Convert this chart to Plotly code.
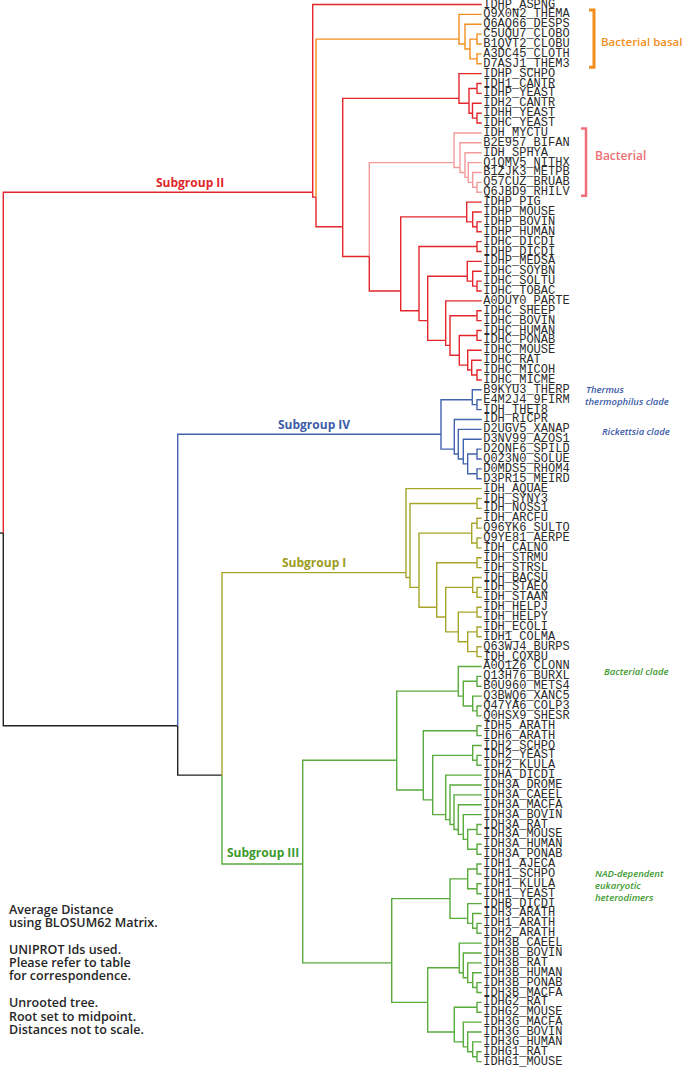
import plotly.graph_objects as go

# ---------------- data ----------------
LEAVES = [
    "IDHP_ASPNG", "Q9X0N2_THEMA", "Q6AQ66_DESPS", "C5UQU7_CLOBO", "B1QVT2_CLOBU",
    "A3DC45_CLOTH", "D7ASJ1_THEM3", "IDHP_SCHPO", "IDH1_CANTR", "IDHP_YEAST",
    "IDH2_CANTR", "IDHH_YEAST", "IDHC_YEAST", "IDH_MYCTU", "B2E957_BIFAN",
    "IDH_SPHYA", "Q1QMV5_NITHX", "B1ZJK3_METPB", "Q57CUZ_BRUAB", "Q6JBD9_RHILV",
    "IDHP_PIG", "IDHP_MOUSE", "IDHP_BOVIN", "IDHP_HUMAN", "IDHC_DICDI",
    "IDHP_DICDI", "IDHP_MEDSA", "IDHC_SOYBN", "IDHC_SOLTU", "IDHC_TOBAC",
    "A0DUY0_PARTE", "IDHC_SHEEP", "IDHC_BOVIN", "IDHC_HUMAN", "IDHC_PONAB",
    "IDHC_MOUSE", "IDHC_RAT", "IDHC_MICOH", "IDHC_MICME",
    "B9KYU3_THERP", "E4M2J4_9FIRM", "IDH_THET8", "IDH_RICPR", "D2UGV5_XANAP",
    "D3NV99_AZOS1", "D2QNF6_SPILD", "Q023N0_SOLUE", "D0MDS5_RHOM4", "D3PR15_MEIRD",
    "IDH_AQUAE", "IDH_SYNY3", "IDH_NOSS1", "IDH_ARCFU", "Q96YK6_SULTO",
    "Q9YE81_AERPE", "IDH_CALNO", "IDH_STRMU", "IDH_STRSL", "IDH_BACSU",
    "IDH_STAEQ", "IDH_STAAN", "IDH_HELPJ", "IDH_HELPY", "IDH_ECOLI",
    "IDH1_COLMA", "Q63WJ4_BURPS", "IDH_COXBU",
    "A0Q1Z6_CLONN", "Q13H76_BURXL", "B0U960_METS4", "Q3BWQ6_XANC5", "Q47YA6_COLP3",
    "Q0HSX9_SHESR", "IDH5_ARATH", "IDH6_ARATH", "IDH2_SCHPO", "IDH2_YEAST",
    "IDH2_KLULA", "IDHA_DICDI", "IDH3A_DROME", "IDH3A_CAEEL", "IDH3A_MACFA",
    "IDH3A_BOVIN", "IDH3A_RAT", "IDH3A_MOUSE", "IDH3A_HUMAN", "IDH3A_PONAB",
    "IDH1_AJECA", "IDH1_SCHPO", "IDH1_KLULA", "IDH1_YEAST", "IDHB_DICDI",
    "IDH3_ARATH", "IDH1_ARATH", "IDH2_ARATH", "IDH3B_CAEEL", "IDH3B_BOVIN",
    "IDH3B_RAT", "IDH3B_HUMAN", "IDH3B_PONAB", "IDH3B_MACFA", "IDHG2_RAT",
    "IDHG2_MOUSE", "IDH3G_MACFA", "IDH3G_BOVIN", "IDH3G_HUMAN", "IDHG1_RAT",
    "IDHG1_MOUSE",
]
LEAF_DEPTH = 481.7   # all tips share the same depth (distances not to scale)

# Newick sub-trees; ":value" = depth of the internal node
BASAL = "(Q9X0N2_THEMA,(Q6AQ66_DESPS,((C5UQU7_CLOBO,B1QVT2_CLOBU):477,(A3DC45_CLOTH,D7ASJ1_THEM3):477):470):465)Basal:459"
YEASTS = "(IDHP_SCHPO,((IDH1_CANTR,IDHP_YEAST):477,(IDH2_CANTR,(IDHH_YEAST,IDHC_YEAST):477):472.5):469):459"
BACT = "(IDH_MYCTU,(B2E957_BIFAN,(IDH_SPHYA,(Q1QMV5_NITHX,(B1ZJK3_METPB,(Q57CUZ_BRUAB,Q6JBD9_RHILV):477):472.7):468.3):465):460)Bact:454"
IDHP_MAMMALS = "(IDHP_PIG,(IDHP_MOUSE,(IDHP_BOVIN,IDHP_HUMAN):477):472.7):466.7"
PLANTS = "(IDHP_MEDSA,(IDHC_SOYBN,(IDHC_SOLTU,IDHC_TOBAC):477):472.7):467.3"
IDHC_MAMMALS = ("(A0DUY0_PARTE,((IDHC_SHEEP,IDHC_BOVIN):477,((IDHC_HUMAN,IDHC_PONAB):477,"
                "(IDHC_MOUSE,(IDHC_RAT,(IDHC_MICOH,IDHC_MICME):477):471.7):467.7):459.3):450):445.7")
SUB_II = ("(IDHP_ASPNG,(" + BASAL + ",(" + YEASTS + ",(" + BACT + ",(" + IDHP_MAMMALS +
          ",((IDHC_DICDI,IDHP_DICDI):477,(" + PLANTS + "," + IDHC_MAMMALS +
          "):427.7):419):400.7):369.3):342.7):316)SubII:312.7")

THERMUS = "(B9KYU3_THERP,(E4M2J4_9FIRM,IDH_THET8):477):472.3"
RICKETTSIA = ("(IDH_RICPR,(D2UGV5_XANAP,(D3NV99_AZOS1,((D2QNF6_SPILD,Q023N0_SOLUE):477,"
              "(D0MDS5_RHOM4,D3PR15_MEIRD):477):467.7):463.3):458.3):454.3")
SUB_IV = "(" + THERMUS + "," + RICKETTSIA + ")SubIV:441"

ARCHAEA = "((IDH_ARCFU,Q96YK6_SULTO):477,(Q9YE81_AERPE,IDH_CALNO):477):471.7"
PROTEO = "((IDH_HELPJ,IDH_HELPY):477,((IDH_ECOLI,IDH1_COLMA):477,(Q63WJ4_BURPS,IDH_COXBU):477):467.7):458.3"
SUB_I = ("(IDH_AQUAE,((IDH_SYNY3,IDH_NOSS1):477,(" + ARCHAEA +
         ",((IDH_STRMU,IDH_STRSL):477,((IDH_BACSU,(IDH_STAEQ,IDH_STAAN):477):472.7," + PROTEO +
         "):445.7):436.7):419):410)SubI:406")

BACT_III = "(A0Q1Z6_CLONN,((Q13H76_BURXL,B0U960_METS4):477,(Q3BWQ6_XANC5,(Q47YA6_COLP3,Q0HSX9_SHESR):477):472.7):463.3):458.3"
IDH3A = ("(IDHA_DICDI,(IDH3A_DROME,(IDH3A_CAEEL,(IDH3A_MACFA,(IDH3A_BOVIN,((IDH3A_RAT,IDH3A_MOUSE):477,"
         "(IDH3A_HUMAN,IDH3A_PONAB):477):467.7):463.3):458.3):454):450):445.7")
EUK_A = "((IDH5_ARATH,IDH6_ARATH):477,((IDH2_SCHPO,(IDH2_YEAST,IDH2_KLULA):477):472.7," + IDH3A + "):432.7):423.3"
HETERO = ("(((IDH1_AJECA,IDH1_SCHPO):477,(IDH1_KLULA,IDH1_YEAST):477):467.7,"
          "(IDHB_DICDI,(IDH3_ARATH,(IDH1_ARATH,IDH2_ARATH):477):472.7):467.7):450")
IDH3B = "(IDH3B_CAEEL,(IDH3B_BOVIN,(IDH3B_RAT,(IDH3B_HUMAN,(IDH3B_PONAB,IDH3B_MACFA):477):472.7):467.7):463.3):459.3"
IDH3G = "((IDHG2_RAT,IDHG2_MOUSE):477,(IDH3G_MACFA,(IDH3G_BOVIN,(IDH3G_HUMAN,(IDHG1_RAT,IDHG1_MOUSE):477):472.7):467.7):463.3):454.3"
SUB_III = "((" + BACT_III + "," + EUK_A + "):396.7,(" + HETERO + ",(" + IDH3B + "," + IDH3G + "):427.7):391.7)SubIII:302.7"

TREE = "(" + SUB_II + ",(" + SUB_IV + ",(" + SUB_I + "," + SUB_III + "):222):177.7):3.3"

CLADE_COLORS = {
    "SubII": "#E3262B", "Basal": "#F28E1C", "Bact": "#F29A9C",
    "SubIV": "#4263AE", "SubI": "#A6A52A", "SubIII": "#58AB3C",
}
DEFAULT_COLOR = "#222222"

NOTES = [
    "Average Distance", "using BLOSUM62 Matrix.", "",
    "UNIPROT Ids used.", "Please refer to table", "for correspondence.", "",
    "Unrooted tree.", "Root set to midpoint.", "Distances not to scale.",
]

# ---------------- tree parsing / layout ----------------
def parse_newick(s):
    s = s.replace(" ", "")
    pos = 0

    def read():
        nonlocal pos
        if s[pos] == "(":
            pos += 1
            kids = [read()]
            while s[pos] == ",":
                pos += 1
                kids.append(read())
            assert s[pos] == ")"
            pos += 1
            st = pos
            while pos < len(s) and s[pos] not in ":,)":
                pos += 1
            label = s[st:pos]
            depth = None
            if pos < len(s) and s[pos] == ":":
                pos += 1
                st = pos
                while pos < len(s) and s[pos] not in ",)":
                    pos += 1
                depth = float(s[st:pos])
            return {"kids": kids, "label": label, "depth": depth}
        st = pos
        while s[pos] not in ",)":
            pos += 1
        return {"name": s[st:pos], "kids": [], "label": "", "depth": LEAF_DEPTH}

    return read()


root = parse_newick(TREE)
leaf_index = {n: i for i, n in enumerate(LEAVES)}
nodes_by_label = {}


def place(node, color):
    c = CLADE_COLORS.get(node["label"], color)
    node["color"] = c
    if node["label"]:
        nodes_by_label[node["label"]] = node
    if not node["kids"]:
        node["lo"] = node["hi"] = leaf_index[node["name"]]
    else:
        for k in node["kids"]:
            place(k, c)
        node["lo"] = min(k["lo"] for k in node["kids"])
        node["hi"] = max(k["hi"] for k in node["kids"])
    node["y"] = (node["lo"] + node["hi"]) / 2.0


place(root, DEFAULT_COLOR)

segs = {}


def collect(node):
    for k in node["kids"]:
        xs, ys = segs.setdefault(k["color"], ([], []))
        xs += [node["depth"], node["depth"], k["depth"], None]
        ys += [node["y"], k["y"], k["y"], None]
        collect(k)


collect(root)
xs, ys = segs.setdefault(DEFAULT_COLOR, ([], []))
xs += [0, root["depth"], None]
ys += [root["y"], root["y"], None]

# ---------------- figure ----------------
W, H = 685, 1068
TOP_PX, STEP_PX = 4.5, 9.88          # pixel of first tip, tip spacing
y_top = -TOP_PX / STEP_PX
y_bot = (H - TOP_PX) / STEP_PX

fig = go.Figure()
order = [DEFAULT_COLOR, "#58AB3C", "#A6A52A", "#4263AE", "#F29A9C", "#F28E1C", "#E3262B"]
for col in order:
    if col in segs:
        fig.add_trace(go.Scatter(x=segs[col][0], y=segs[col][1], mode="lines",
                                 line=dict(color=col, width=1.4), hoverinfo="skip"))

fig.add_trace(go.Scatter(
    x=[LEAF_DEPTH + 1.5] * len(LEAVES), y=list(range(len(LEAVES))), mode="text",
    text=LEAVES, textposition="middle right",
    textfont=dict(family="Liberation Mono", size=12, color="#2b2b2b"),
    hoverinfo="skip", cliponaxis=False))

ann = []
# subgroup labels sit above the branch leading to the subgroup
SUBGROUP_STYLE = [
    ("SubII", "Subgroup II", "#E1262A", 190, 10),
    ("SubIV", "Subgroup IV", "#3C5CA8", 314, 10),
    ("SubI", "Subgroup I", "#9C9B1E", 314, 10),
    ("SubIII", "Subgroup III", "#3D9A2E", 263, 12),
]
for lab, txt, col, xc, shift in SUBGROUP_STYLE:
    nd = nodes_by_label[lab]
    ann.append(dict(x=xc, y=nd["y"], xref="x", yref="y", text=txt, showarrow=False,
                    xanchor="center", yanchor="middle", yshift=shift,
                    font=dict(family="Open Sans", size=12, color=col, weight=700)))

# brackets
shapes = []
BRACKETS = [("Q9X0N2_THEMA", "D7ASJ1_THEM3", "#F28E1C", 594, 3),
            ("IDH_MYCTU", "Q6JBD9_RHILV", "#EE7078", 586, 2.5)]
for a, b, col, xb, wdt in BRACKETS:
    y0 = leaf_index[a] - 0.45
    y1 = leaf_index[b] + 0.35
    shapes.append(dict(type="path", xref="x", yref="y",
                       path=f"M {xb-5},{y0} L {xb},{y0} L {xb},{y1} L {xb-5},{y1}",
                       line=dict(color=col, width=wdt)))

SIDE_LABELS = [
    ("Bacterial basal", 684, "right", leaf_index["B1QVT2_CLOBU"] - 0.25, "#F0901E", False, 11.5),
    ("Bacterial", 593, "left", leaf_index["Q1QMV5_NITHX"] - 0.75, "#EC6F76", False, 12),
    ("Thermus", 584, "left", leaf_index["B9KYU3_THERP"], "#3C5CA8", True, 9.5),
    ("thermophilus clade", 583, "left", leaf_index["E4M2J4_9FIRM"] + 0.2, "#3C5CA8", True, 9.5),
    ("Rickettsia clade", 600, "left", leaf_index["D2UGV5_XANAP"] + 0.2, "#3C5CA8", True, 9.5),
    ("Bacterial clade", 602, "left", leaf_index["A0Q1Z6_CLONN"] + 0.55, "#3D9A2E", True, 9.5),
    ("NAD-dependent", 593, "left", leaf_index["IDH1_SCHPO"], "#3D9A2E", True, 9.5),
    ("eukaryotic", 593, "left", leaf_index["IDH1_SCHPO"] + 1.2, "#3D9A2E", True, 9.5),
    ("heterodimers", 593, "left", leaf_index["IDH1_SCHPO"] + 2.4, "#3D9A2E", True, 9.5),
]
for txt, xl, xa, yl, col, ital, sz in SIDE_LABELS:
    ann.append(dict(x=xl, y=yl, xref="x", yref="y",
                    text=(f"<i>{txt}</i>" if ital else txt), showarrow=False,
                    xanchor=xa, yanchor="middle",
                    font=dict(family="Open Sans", size=sz, color=col, weight=600)))

# notes block
note_y = 909.0
for line in NOTES:
    if line:
        ann.append(dict(x=7.0 / W, y=1 - note_y / H, xref="paper", yref="paper",
                        text=line, showarrow=False, xanchor="left", yanchor="middle",
                        font=dict(family="Open Sans", size=12.5, color="#262626", weight=600)))
    note_y += 13.4

fig.update_layout(
    width=W, height=H, margin=dict(l=0, r=0, t=0, b=0),
    paper_bgcolor="white", plot_bgcolor="white", showlegend=False,
    xaxis=dict(range=[0, W], visible=False, fixedrange=True),
    yaxis=dict(range=[y_bot, y_top], visible=False, fixedrange=True),
    annotations=ann, shapes=shapes,
)

fig.write_html("out.html", config={"displayModeBar": False},
               post_script="document.body.style.margin='0';document.body.style.overflow='hidden';")
